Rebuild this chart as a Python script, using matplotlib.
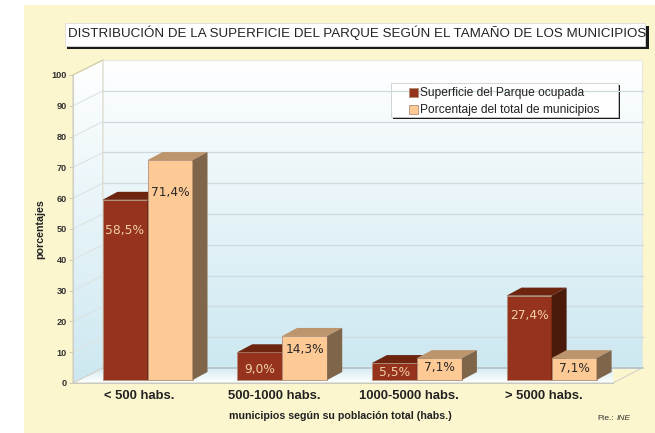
import numpy as np
import matplotlib
matplotlib.use('Agg')
import matplotlib.pyplot as plt
from matplotlib.patches import Polygon, Rectangle

# Data
categories = ['< 500 habs.', '500-1000 habs.', '1000-5000 habs.', '> 5000 habs.']
superficie = [58.5, 9.0, 5.5, 27.4]
porcentaje = [71.4, 14.3, 7.1, 7.1]
superficie_labels = ['58,5%', '9,0%', '5,5%', '27,4%']
porcentaje_labels = ['71,4%', '14,3%', '7,1%', '7,1%']
yticks = list(range(0, 101, 10))

W, H = 655, 433
plt.rcParams['font.family'] = ['Liberation Sans', 'DejaVu Sans']
fig = plt.figure(figsize=(W / 100, H / 100), dpi=100, facecolor='white')

# Background layer, in pixels
bg = fig.add_axes([0, 0, 1, 1], zorder=0)
bg.axis('off')
bg.add_patch(Rectangle((24, 5), W - 24, H - 5, fc='#fcf6cf', ec='none'))

cmap = matplotlib.colors.LinearSegmentedColormap.from_list('wall', ['#ffffff', '#cde8f1'])
grad = np.linspace(0, 1, 256).reshape(-1, 1)
back = bg.imshow(grad, extent=(103, 642, 368, 60), cmap=cmap, aspect='auto', zorder=1)
side = bg.imshow(grad, extent=(73, 103, 383, 60), cmap=cmap, aspect='auto', zorder=1)
side_poly = Polygon([(73, 75), (103, 60), (103, 368), (73, 383)], fc='none', ec='#d0d0c4', lw=0.8, zorder=2)
bg.add_patch(side_poly)
side.set_clip_path(side_poly)
bg.add_patch(Rectangle((103, 60), 539, 308, fc='none', ec='#e8e8dc', lw=0.8, zorder=2))
floor_cmap = matplotlib.colors.LinearSegmentedColormap.from_list('floor', ['#d5ebf2', '#ffffff'])
floor = bg.imshow(grad, extent=(73, 613, 383, 368), cmap=floor_cmap, aspect='auto', zorder=2)
floor_poly = Polygon([(73, 383), (103, 368), (642, 368), (613, 383)], fc='none', ec='#d2d2c8', lw=0.8, zorder=2)
bg.add_patch(floor_poly)
floor.set_clip_path(floor_poly)
bg.set_xlim(0, W)
bg.set_ylim(H, 0)

# Title box
bg.add_patch(Rectangle((67, 26), 582, 23, fc='#1a1a1a', ec='none', zorder=3))
bg.add_patch(Rectangle((65, 23), 580, 23, fc='white', ec='#dddddd', lw=0.6, zorder=4))
bg.text(68, 32.5, 'DISTRIBUCIÓN DE LA SUPERFICIE DEL PARQUE SEGÚN EL TAMAÑO DE LOS MUNICIPIOS',
        fontsize=9.65, color='#222222', va='center', ha='left', zorder=5)

# Legend box
bg.add_patch(Rectangle((393, 85), 227, 34, fc='#1a1a1a', ec='none', zorder=3))
bg.add_patch(Rectangle((391, 83), 227, 34, fc='white', ec='#cccccc', lw=0.6, zorder=4))

# Main axes: the front plane of the chart
px = 134.7
x_first = 147.5
ax = fig.add_axes([73 / W, 1 - 383 / H, (613 - 73) / W, 308 / H], zorder=1)
ax.patch.set_alpha(0)
ax.set_xlim((73 - x_first) / px, (613 - x_first) / px)
ax.set_ylim(0, 100)
for s in ['top', 'right']:
    ax.spines[s].set_visible(False)
ax.spines['left'].set_color('#d0d0c4')
ax.spines['bottom'].set_color('#c9c9bd')
xc = np.arange(len(categories))
# category labels sit a little left of the bar pairs
ax.set_xticks(xc - 8 / px)
ax.set_xticklabels(categories, fontsize=9.4, fontweight='bold', color='#222222')
ax.set_yticks(yticks)
ax.set_yticklabels([str(t) for t in yticks], fontsize=6.6, fontweight='bold', color='#333333')
ax.tick_params(axis='x', length=0, pad=5)
ax.tick_params(axis='y', length=3, width=0.7, color='#c9c9bd', pad=1.5)

unit_y = 3.08
wall_dx, wall_dy = 30 / px, 15 / unit_y
bar_dx, bar_dy = 15 / px, 8 / unit_y
base = 3 / unit_y
w = 45 / px

# Gridlines on side and back walls
x0, x1 = ax.get_xlim()
for t in yticks[1:-1]:
    ax.plot([x0, x0 + wall_dx], [t, t + wall_dy], color='#dde3e3', lw=0.8, clip_on=False, zorder=1)
    ax.plot([x0 + wall_dx, x1 + wall_dx], [t + wall_dy, t + wall_dy],
            color='#cfdade', lw=0.9, clip_on=False, zorder=1)
ax.plot([x0 + wall_dx, x1 + wall_dx], [wall_dy, wall_dy], color='#b5c4c9', lw=1.2, clip_on=False, zorder=1)
ax.plot([x0, x0 + wall_dx], [100, 100 + wall_dy], color='#d8d2a8', lw=0.9, clip_on=False, zorder=1)


def bars_3d(x, values, face, top, side_col, label, z):
    b = ax.bar(x, values, w, bottom=base, color=face, edgecolor='#b08f78', linewidth=0.6,
               zorder=z, label=label, clip_on=False)
    for xi, v in zip(x, values):
        l, r, h = xi - w / 2, xi + w / 2, base + v
        ax.add_patch(Polygon([(l, h), (l + bar_dx, h + bar_dy), (r + bar_dx, h + bar_dy), (r, h)],
                             fc=top, ec='none', zorder=z, clip_on=False))
        ax.add_patch(Polygon([(r, base), (r + bar_dx, base + bar_dy), (r + bar_dx, h + bar_dy), (r, h)],
                             fc=side_col, ec='none', zorder=z, clip_on=False))
    return b


b1 = bars_3d(xc - w / 2, superficie, '#95331c', '#6e2510', '#4a1b0a', 'Superficie del Parque ocupada', 3)
b2 = bars_3d(xc + w / 2, porcentaje, '#fdc994', '#bd956c', '#7f654a', 'Porcentaje del total de municipios', 4)

# Value labels
offs1 = [31, 17, 9, 20]
offs2 = [32, 14, 9, 10]
for i in range(len(categories)):
    ax.annotate(superficie_labels[i], (xc[i] - w / 2, base + superficie[i]), xytext=(0, -offs1[i] * 0.72),
                textcoords='offset points', ha='center', va='center', fontsize=8.8,
                family='DejaVu Sans', color='#f0cfa8', zorder=6)
    ax.annotate(porcentaje_labels[i], (xc[i] + w / 2, base + porcentaje[i]), xytext=(0, -offs2[i] * 0.72),
                textcoords='offset points', ha='center', va='center', fontsize=8.8,
                family='DejaVu Sans', color='#2a2a2a', zorder=6)

leg = ax.legend(handles=[b1, b2], loc='upper left', bbox_to_anchor=((407 - 73) / 540, 1 - (85 - 75) / 308),
                frameon=False, fontsize=8.65, handlelength=0.75, handleheight=0.75, handletextpad=0.15,
                labelspacing=0.42, borderpad=0.2, borderaxespad=0, labelcolor='#222222')
leg.set_zorder(7)

# Axis titles, source
fig.text(40 / W, 1 - 229 / H, 'porcentajes', rotation=90, fontsize=7.7, fontweight='bold',
         color='#222222', ha='center', va='center')
fig.text(340 / W, 1 - 416 / H, 'municipios según su población total (habs.)', fontsize=7.65,
         fontweight='bold', color='#222222', ha='center', va='center')
fig.text(597 / W, 1 - 419 / H, 'Fte.:', fontsize=6, color='#333333', ha='left', va='center')
fig.text(617 / W, 1 - 419 / H, 'INE', fontsize=6, style='italic', color='#333333', ha='left', va='center')

fig.savefig('out.png', dpi=100)
